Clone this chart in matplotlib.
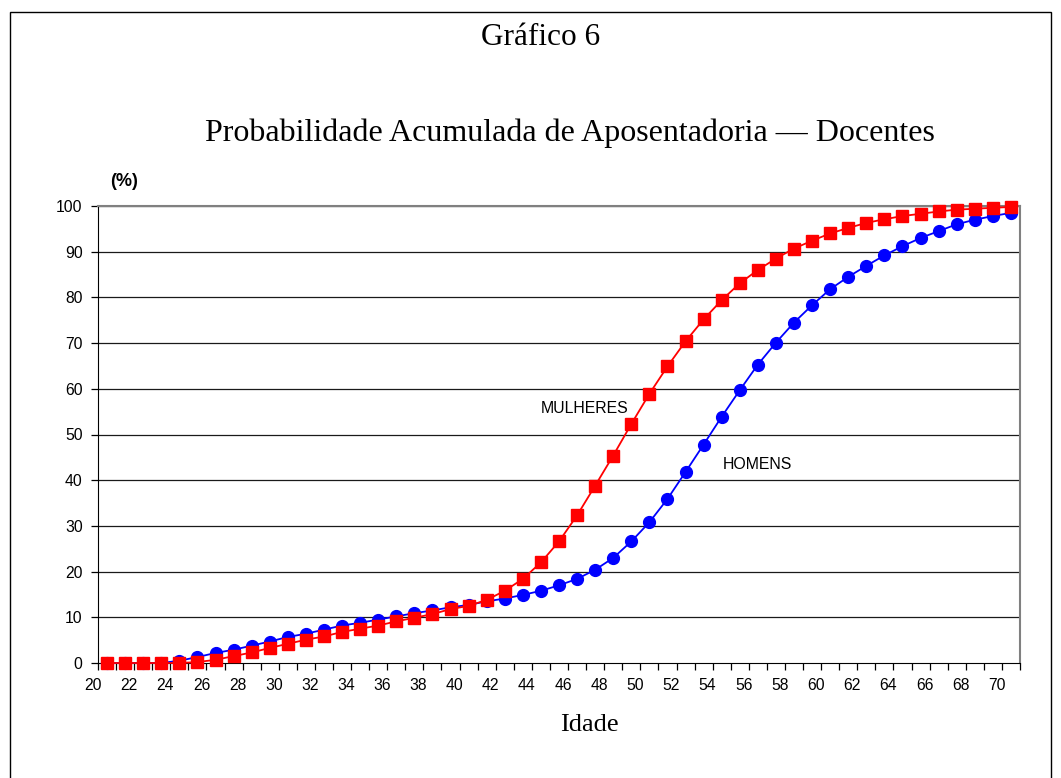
import matplotlib
matplotlib.use("Agg")
import matplotlib.pyplot as plt
import matplotlib.transforms as mtransforms
from matplotlib.patches import Rectangle
import numpy as np

ages = list(range(20, 71))
mulheres = [0, 0, 0, 0, 0, 0.2, 0.7, 1.5, 2.3, 3.3, 4.2, 5.1, 5.8, 6.8, 7.5, 8.2, 9.1, 9.9,
            10.7, 11.8, 12.5, 13.8, 15.8, 18.4, 22.0, 26.6, 32.3, 38.8, 45.4, 52.3, 58.9,
            64.9, 70.4, 75.2, 79.4, 83.1, 86.0, 88.5, 90.7, 92.4, 94.0, 95.2, 96.3, 97.1,
            97.8, 98.3, 98.8, 99.2, 99.4, 99.6, 99.8]
homens = [0, 0, 0, 0, 0.5, 1.3, 2.2, 2.9, 3.8, 4.7, 5.7, 6.4, 7.3, 8.2, 8.8, 9.5, 10.2,
          10.9, 11.5, 12.2, 12.7, 13.5, 14.1, 14.9, 15.8, 17.0, 18.4, 20.4, 23.0, 26.6,
          30.8, 35.9, 41.8, 47.8, 53.9, 59.7, 65.3, 70.1, 74.5, 78.3, 81.8, 84.5, 86.9,
          89.2, 91.2, 93.0, 94.5, 96.0, 97.0, 97.8, 98.5]
x_labels = [str(a) for a in range(20, 71, 2)]
y_ticks = list(range(0, 101, 10))

W, H = 1061, 778
fig = plt.figure(figsize=(W / 100, H / 100), dpi=100)
fig.patch.set_facecolor("white")

# outer frame
fig.patches.append(Rectangle((10 / W, -0.01), (1051 - 10) / W, (H - 12) / H + 0.01,
                             transform=fig.transFigure, fill=False, edgecolor="black",
                             linewidth=1.0))

left, right, top, bottom = 98, 1020, 206, 663
ax = fig.add_axes([left / W, 1 - bottom / H, (right - left) / W, (bottom - top) / H])

serif = "Liberation Serif"
sans = "Liberation Sans"

for yv in y_ticks[1:]:
    ax.axhline(yv, color="#1a1a1a", linewidth=0.9, zorder=1)

ax.plot(ages, homens, color="#0000FF", marker="o", markersize=8.5, linewidth=1.3,
        zorder=3, clip_on=False)
ax.plot(ages, mulheres, color="#FF0000", marker="s", markersize=8.5, linewidth=1.3,
        zorder=4, clip_on=False)

ax.set_xlim(ages[0] - 0.5, ages[-1] + 0.5)
ax.set_ylim(0, 100)

ax.spines["top"].set_color("#808080")
ax.spines["right"].set_color("#808080")
ax.spines["top"].set_linewidth(1.5)
ax.spines["right"].set_linewidth(1.5)
ax.spines["left"].set_color("black")
ax.spines["bottom"].set_color("black")

ax.set_yticks(y_ticks)
ax.set_yticklabels([str(v) for v in y_ticks], fontsize=11.3, family=sans)
ax.tick_params(axis="y", length=5, width=0.9, direction="out", pad=6)

bounds = np.arange(ages[0] - 0.5, ages[-1] + 1.0, 1.0)
ax.set_xticks(bounds[::2][:len(x_labels)])
ax.set_xticklabels(x_labels, fontsize=11.3, family=sans)
ax.set_xticks(bounds, minor=True)
ax.tick_params(axis="x", which="both", length=5, width=0.9, direction="out", pad=6)
shift = mtransforms.ScaledTranslation(-5 / 100, 0, fig.dpi_scale_trans)
for lab in ax.get_xticklabels():
    lab.set_transform(lab.get_transform() + shift)

ax.text(46.44, 55.6, "MULHERES", fontsize=11.4, family=sans, ha="center", va="center")
ax.text(55.95, 43.5, "HOMENS", fontsize=11.4, family=sans, ha="center", va="center")

fig.text(541 / W, 1 - 45 / H, "Gráfico 6", fontsize=22.5, family=serif,
         ha="center", va="baseline")
fig.text(570 / W, 1 - 141 / H, "Probabilidade Acumulada de Aposentadoria — Docentes",
         fontsize=23, family=serif, ha="center", va="baseline")
fig.text(124 / W, 1 - 181 / H, "(%)", fontsize=13, family=sans, fontweight="bold",
         ha="center", va="center")
fig.text(589 / W, 1 - 731 / H, "Idade", fontsize=19, family=serif,
         ha="center", va="baseline")

fig.savefig("out.png", dpi=100)
